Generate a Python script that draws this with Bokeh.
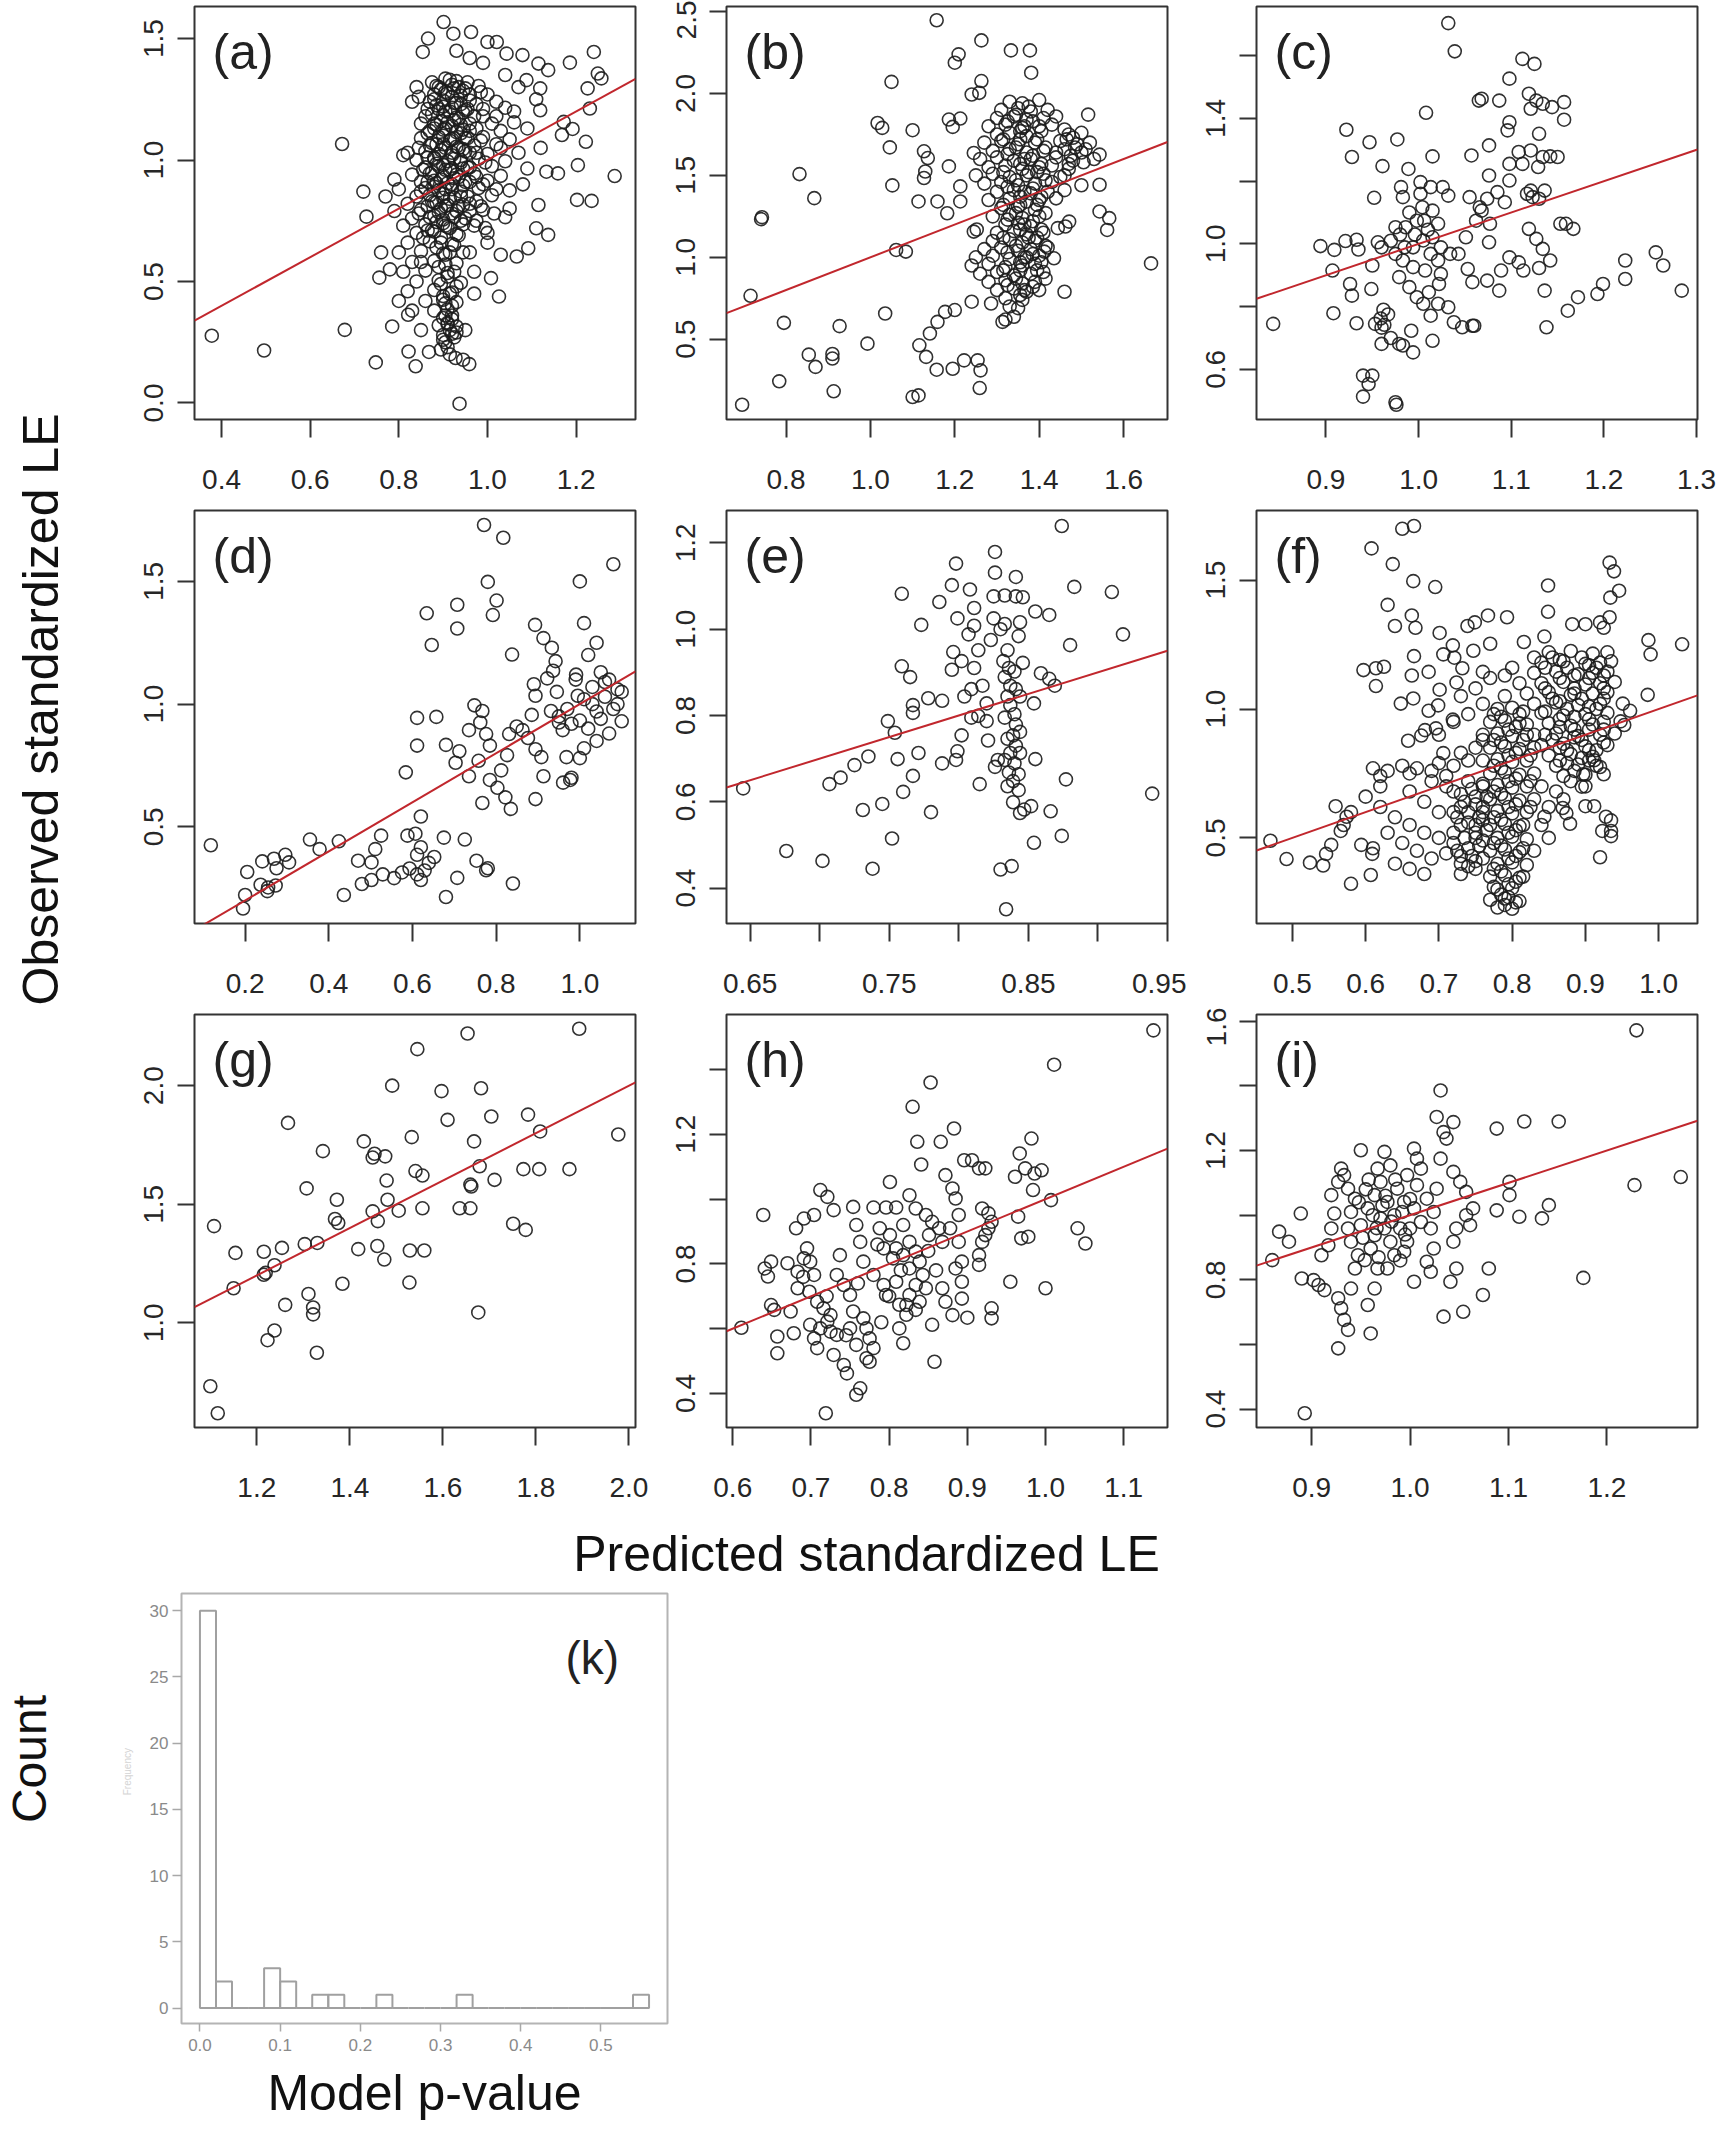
import math
from bokeh.plotting import figure
from bokeh.layouts import row, column
from bokeh.models import Range1d, FixedTicker, Label, PrintfTickFormatter
from bokeh.core.properties import value
from bokeh.embed import file_html
from bokeh.resources import INLINE

FONT = "Liberation Sans"

# ---------------- data ----------------
panel_keys = ["a", "b", "c", "d", "e", "f", "g", "h", "i"]

a_pts = [
    (0.378, 0.277), (0.496, 0.216), (0.672, 1.066), (0.678, 0.301), (0.720, 0.870), (0.727, 0.767),
    (0.756, 0.516), (0.748, 0.167), (0.785, 0.315), (0.821, 0.363), (0.822, 0.212), (0.838, 0.151),
    (0.868, 0.210), (0.937, -0.003), (0.928, 0.185), (0.945, 0.178), (0.959, 0.160), (0.901, 1.568),
    (0.854, 1.445), (0.866, 1.500), (0.923, 1.520), (0.963, 1.527), (1.000, 1.486), (1.021, 1.486),
    (1.043, 1.438), (1.079, 1.432), (1.115, 1.397), (1.137, 1.370), (1.186, 1.401), (1.240, 1.445),
    (1.249, 1.356), (1.226, 1.295), (1.257, 1.336), (1.231, 1.212), (1.222, 1.075), (1.204, 0.979),
    (1.202, 0.836), (1.235, 0.832), (1.168, 1.103), (1.159, 0.945), (1.133, 0.952), (1.137, 0.692),
    (1.110, 0.719), (1.115, 0.815), (1.092, 0.637), (1.066, 0.603), (1.030, 0.610), (1.026, 0.438),
    (1.008, 0.514), (1.119, 1.205), (1.088, 1.329), (1.119, 1.295), (1.287, 0.934), (1.172, 1.157),
    (1.192, 1.128), (0.96, 1.42), (0.99, 1.40), (0.93, 1.45), (1.04, 1.35), (1.07, 1.30), (1.11, 1.25),
    (1.06, 1.20), (1.09, 1.13), (0.84, 1.30), (0.83, 1.24), (0.81, 1.02), (0.79, 0.92), (0.77, 0.85),
    (0.76, 0.62), (0.78, 0.55), (0.80, 0.42), (0.83, 0.38), (0.85, 0.30), (1.05, 0.80), (1.08, 0.90),
    (1.12, 1.05), (1.03, 1.12), (1.00, 0.66), (0.97, 0.45), (0.95, 0.30),
    (0.905, 1.335), (0.93, 1.325), (0.89, 1.30), (0.92, 1.31), (0.95, 1.295), (0.98, 1.305),
    (0.88, 1.27), (0.91, 1.275), (0.94, 1.265), (1.00, 1.27), (0.87, 1.24), (0.90, 1.245), (0.93, 1.235),
    (0.96, 1.245), (1.02, 1.24), (0.89, 1.21), (0.92, 1.215), (0.95, 1.205), (0.99, 1.21), (1.04, 1.215),
    (0.86, 1.18), (0.90, 1.185), (0.93, 1.175), (0.97, 1.18), (0.88, 1.15), (0.91, 1.155), (0.94, 1.145),
    (1.01, 1.15), (1.06, 1.155), (0.87, 1.12), (0.90, 1.125), (0.93, 1.115), (0.96, 1.12), (0.85, 1.09),
    (0.89, 1.095), (0.92, 1.085), (0.95, 1.09), (0.99, 1.095), (1.05, 1.085), (0.87, 1.06), (0.90, 1.065),
    (0.93, 1.055), (0.97, 1.06), (1.02, 1.065), (0.82, 1.03), (0.86, 1.035), (0.89, 1.025), (0.92, 1.03),
    (0.95, 1.035), (1.00, 1.025), (1.07, 1.03), (0.84, 1.00), (0.88, 1.005), (0.91, 0.995), (0.94, 1.00),
    (0.98, 1.005), (1.04, 0.995), (0.86, 0.97), (0.89, 0.975), (0.92, 0.965), (0.96, 0.97), (1.01, 0.975),
    (1.09, 0.965), (0.83, 0.94), (0.87, 0.945), (0.90, 0.935), (0.93, 0.94), (0.97, 0.945), (1.03, 0.935),
    (0.85, 0.91), (0.88, 0.915), (0.91, 0.905), (0.95, 0.91), (1.00, 0.915), (0.80, 0.88), (0.86, 0.885),
    (0.89, 0.875), (0.92, 0.88), (0.98, 0.885), (1.05, 0.875), (0.84, 0.85), (0.87, 0.855), (0.90, 0.845),
    (0.94, 0.85), (1.01, 0.855), (0.82, 0.82), (0.88, 0.825), (0.91, 0.815), (0.96, 0.82), (0.79, 0.79),
    (0.85, 0.795), (0.89, 0.785), (0.93, 0.79), (0.99, 0.795), (0.83, 0.76), (0.87, 0.765), (0.90, 0.755),
    (0.95, 0.76), (1.04, 0.765), (0.81, 0.73), (0.86, 0.735), (0.91, 0.725), (0.97, 0.73), (0.84, 0.70),
    (0.88, 0.705), (0.93, 0.695), (1.00, 0.70), (0.82, 0.66), (0.87, 0.665), (0.92, 0.655), (0.80, 0.62),
    (0.85, 0.625), (0.90, 0.615), (0.96, 0.62), (0.83, 0.58), (0.88, 0.585), (0.93, 0.575), (0.81, 0.54),
    (0.86, 0.545), (0.91, 0.535), (0.97, 0.54), (0.84, 0.50), (0.89, 0.505), (0.94, 0.495), (0.82, 0.46),
    (0.88, 0.465), (0.92, 0.455), (0.86, 0.42), (0.90, 0.425), (0.93, 0.415), (0.88, 0.38), (0.91, 0.385),
    (0.90, 0.35), (0.92, 0.345), (0.89, 0.32), (0.91, 0.325), (0.93, 0.315), (0.90, 0.28), (0.92, 0.285),
    (0.905, 0.25),
    (0.875, 1.32), (0.895, 1.29), (0.915, 1.33), (0.935, 1.30), (0.955, 1.32), (0.88, 1.25), (0.90, 1.22),
    (0.92, 1.26), (0.94, 1.23), (0.96, 1.27), (0.875, 1.19), (0.895, 1.16), (0.915, 1.20), (0.935, 1.17),
    (0.955, 1.21), (0.88, 1.13), (0.90, 1.10), (0.92, 1.14), (0.94, 1.11), (0.96, 1.15), (0.875, 1.07),
    (0.895, 1.04), (0.915, 1.08), (0.935, 1.05), (0.955, 1.09), (0.88, 1.01), (0.90, 0.98), (0.92, 1.02),
    (0.94, 0.99), (0.96, 1.03), (0.875, 0.95), (0.895, 0.92), (0.915, 0.96), (0.935, 0.93), (0.955, 0.97),
    (0.88, 0.89), (0.90, 0.86), (0.92, 0.90), (0.94, 0.87), (0.96, 0.91), (0.875, 0.83), (0.895, 0.80),
    (0.915, 0.84), (0.935, 0.81), (0.955, 0.85), (0.88, 0.77), (0.90, 0.74), (0.92, 0.78), (0.94, 0.75),
    (0.96, 0.79), (0.875, 0.71), (0.895, 0.68), (0.915, 0.72), (0.935, 0.69), (0.885, 0.64), (0.905, 0.61),
    (0.925, 0.65), (0.945, 0.62), (0.89, 0.56), (0.91, 0.52), (0.93, 0.48), (0.90, 0.44), (0.92, 0.40),
    (0.905, 0.36), (0.915, 0.30), (0.925, 0.27), (0.895, 0.22), (0.915, 0.20),
    (0.845, 1.26), (0.85, 1.15), (0.845, 1.05), (0.855, 0.96), (0.85, 0.87), (0.845, 0.78), (0.855, 0.68),
    (0.85, 0.58), (0.985, 1.28), (0.99, 1.18), (0.985, 1.08), (0.995, 0.99), (0.99, 0.90), (0.985, 0.81),
    (0.995, 0.72), (1.02, 1.18), (1.03, 1.05), (1.02, 0.88), (1.015, 0.78),
    (0.885, 1.305), (0.905, 1.28), (0.925, 1.295), (0.945, 1.285), (0.885, 1.225), (0.905, 1.20),
    (0.925, 1.235), (0.945, 1.195), (0.885, 1.145), (0.905, 1.13), (0.925, 1.165), (0.945, 1.125),
    (0.885, 1.065), (0.905, 1.05), (0.925, 1.09), (0.945, 1.045), (0.885, 0.985), (0.905, 0.96),
    (0.925, 1.005), (0.945, 0.965), (0.885, 0.905), (0.905, 0.88), (0.925, 0.925), (0.945, 0.895),
    (0.885, 0.825), (0.905, 0.81), (0.925, 0.845), (0.945, 0.815), (0.885, 0.745), (0.905, 0.73),
    (0.925, 0.765), (0.945, 0.735), (0.895, 0.66), (0.915, 0.62), (0.905, 0.57), (0.925, 0.54),
    (0.895, 0.49), (0.915, 0.45), (0.905, 0.41), (0.92, 0.36), (0.91, 0.33), (0.93, 0.29), (0.90, 0.26),
    (0.91, 0.23), (0.865, 1.21), (0.865, 1.11), (0.865, 1.01), (0.865, 0.91), (0.865, 0.81), (0.865, 0.71),
    (0.975, 1.23), (0.975, 1.13), (0.975, 1.03), (0.975, 0.93), (0.975, 0.83), (0.975, 0.75),
]

b_pts = [
    (0.696, 0.100), (0.716, 0.765), (0.741, 1.233), (0.743, 1.245), (0.784, 0.243), (0.795, 0.600),
    (0.832, 1.508), (0.867, 1.361), (0.854, 0.406), (0.870, 0.331), (0.910, 0.382), (0.910, 0.410),
    (0.913, 0.182), (0.927, 0.580), (0.993, 0.473), (1.035, 0.657), (1.017, 1.820), (1.028, 1.790),
    (1.046, 1.671), (1.050, 2.071), (1.052, 1.439), (1.061, 1.045), (1.084, 1.035), (1.100, 1.776),
    (1.100, 0.147), (1.114, 0.157), (1.116, 0.463), (1.132, 0.392), (1.157, 0.314), (1.195, 0.320),
    (1.222, 0.371), (1.254, 0.371), (1.261, 0.310), (1.259, 0.202), (1.141, 0.535), (1.159, 0.606),
    (1.177, 0.667), (1.200, 0.678), (1.157, 2.447), (1.200, 2.188), (1.209, 2.239), (1.263, 2.324),
    (1.333, 2.263), (1.378, 2.263), (1.381, 2.127), (1.263, 2.076), (1.240, 1.994), (1.258, 2.004),
    (1.186, 1.841), (1.213, 1.847), (1.195, 1.796), (1.127, 1.647), (1.136, 1.606), (1.130, 1.524),
    (1.127, 1.484), (1.114, 1.341), (1.159, 1.341), (1.186, 1.555), (1.213, 1.433), (1.182, 1.269),
    (1.213, 1.341), (1.245, 1.637), (1.516, 1.871), (1.543, 1.627), (1.543, 1.443), (1.543, 1.280),
    (1.566, 1.239), (1.561, 1.167), (1.460, 0.790), (1.665, 0.963), (1.435, 0.994), (1.412, 1.035),
    (1.245, 1.157), (1.252, 1.170), (1.240, 0.729), (1.286, 0.718), (1.313, 0.606), (1.340, 0.637),
    (1.462, 1.188), (1.444, 1.178), (1.471, 1.218),
    (1.33, 1.95), (1.36, 1.94), (1.40, 1.96), (1.31, 1.90), (1.35, 1.91), (1.38, 1.89), (1.42, 1.90),
    (1.30, 1.85), (1.34, 1.86), (1.37, 1.84), (1.41, 1.85), (1.44, 1.86), (1.28, 1.80), (1.32, 1.81),
    (1.36, 1.79), (1.40, 1.80), (1.43, 1.81), (1.30, 1.75), (1.33, 1.76), (1.37, 1.74), (1.47, 1.75),
    (1.50, 1.76), (1.27, 1.70), (1.31, 1.71), (1.35, 1.69), (1.39, 1.70), (1.45, 1.71), (1.49, 1.69),
    (1.52, 1.70), (1.29, 1.65), (1.33, 1.66), (1.37, 1.64), (1.41, 1.65), (1.46, 1.66), (1.50, 1.64),
    (1.26, 1.60), (1.30, 1.61), (1.34, 1.59), (1.38, 1.60), (1.44, 1.61), (1.48, 1.59), (1.53, 1.60),
    (1.28, 1.55), (1.32, 1.56), (1.36, 1.54), (1.40, 1.55), (1.43, 1.56), (1.47, 1.54), (1.25, 1.50),
    (1.29, 1.51), (1.33, 1.49), (1.37, 1.50), (1.41, 1.51), (1.45, 1.49), (1.27, 1.45), (1.31, 1.46),
    (1.35, 1.44), (1.39, 1.45), (1.43, 1.46), (1.50, 1.44), (1.30, 1.40), (1.34, 1.41), (1.38, 1.39),
    (1.42, 1.40), (1.46, 1.41), (1.28, 1.35), (1.33, 1.36), (1.37, 1.34), (1.40, 1.35), (1.44, 1.36),
    (1.31, 1.30), (1.35, 1.31), (1.39, 1.29), (1.29, 1.25), (1.33, 1.26), (1.36, 1.24), (1.40, 1.25),
    (1.32, 1.20), (1.35, 1.21), (1.38, 1.19), (1.30, 1.15), (1.34, 1.16), (1.37, 1.14), (1.41, 1.15),
    (1.29, 1.10), (1.33, 1.11), (1.36, 1.09), (1.39, 1.10), (1.27, 1.05), (1.31, 1.06), (1.35, 1.04),
    (1.38, 1.05), (1.42, 1.06), (1.25, 1.00), (1.29, 1.01), (1.33, 0.99), (1.37, 1.00), (1.40, 1.01),
    (1.24, 0.95), (1.28, 0.96), (1.32, 0.94), (1.36, 0.95), (1.39, 0.96), (1.26, 0.90), (1.30, 0.91),
    (1.34, 0.89), (1.38, 0.90), (1.41, 0.91), (1.28, 0.85), (1.32, 0.86), (1.36, 0.84), (1.39, 0.85),
    (1.30, 0.80), (1.34, 0.81), (1.37, 0.79), (1.40, 0.80), (1.32, 0.75), (1.36, 0.74), (1.33, 0.70),
    (1.35, 0.69), (1.32, 0.62),
    (1.345, 1.87), (1.385, 1.83), (1.355, 1.77), (1.395, 1.72), (1.345, 1.67), (1.385, 1.62),
    (1.355, 1.57), (1.395, 1.52), (1.345, 1.47), (1.385, 1.42), (1.355, 1.37), (1.395, 1.32),
    (1.345, 1.27), (1.385, 1.22), (1.355, 1.17), (1.395, 1.12), (1.345, 1.07), (1.385, 1.02),
    (1.355, 0.97), (1.395, 0.92), (1.345, 0.87), (1.385, 0.82), (1.355, 0.77), (1.315, 1.72),
    (1.315, 1.52), (1.315, 1.32), (1.315, 1.12), (1.315, 0.92), (1.415, 1.67), (1.415, 1.47),
    (1.415, 1.27), (1.415, 1.07), (1.415, 0.87), (1.475, 1.62), (1.485, 1.67), (1.465, 1.72),
    (1.505, 1.58), (1.46, 1.50),
    (1.325, 1.83), (1.365, 1.80), (1.405, 1.77), (1.325, 1.63), (1.365, 1.60), (1.405, 1.57),
    (1.325, 1.43), (1.365, 1.40), (1.405, 1.37), (1.325, 1.23), (1.365, 1.20), (1.405, 1.17),
    (1.325, 1.03), (1.365, 1.00), (1.405, 0.97), (1.325, 0.83), (1.365, 0.80), (1.375, 1.92),
    (1.355, 1.72), (1.375, 1.52), (1.355, 1.32), (1.375, 1.12), (1.355, 0.92), (1.46, 1.78),
    (1.48, 1.73), (1.44, 1.64), (1.47, 1.57), (1.51, 1.66),
]

c_pts = [
    (0.843, 0.745), (0.894, 0.993), (0.909, 0.981), (0.921, 1.009), (0.933, 1.013), (0.935, 0.982),
    (0.907, 0.915), (0.926, 0.872), (0.928, 0.835), (0.908, 0.779), (0.933, 0.747), (0.949, 0.856),
    (0.950, 0.931), (0.956, 1.005), (0.960, 0.989), (0.962, 0.790), (0.967, 0.775), (0.959, 0.762),
    (0.953, 0.745), (0.960, 0.733), (0.963, 0.742), (0.940, 0.580), (0.950, 0.580), (0.946, 0.553),
    (0.940, 0.513), (0.975, 0.495), (0.976, 0.487), (0.922, 1.364), (0.928, 1.277), (0.947, 1.324),
    (0.961, 1.248), (0.977, 1.333), (0.952, 1.147), (0.989, 1.239), (1.008, 1.418), (1.015, 1.279),
    (1.032, 1.704), (1.039, 1.614), (0.981, 1.181), (0.983, 1.149), (1.002, 1.197), (1.013, 1.181),
    (1.026, 1.181), (1.032, 1.154), (1.002, 1.160), (1.004, 1.117), (0.998, 1.074), (1.015, 1.106),
    (1.021, 1.064), (1.006, 1.074), (0.975, 1.053), (0.986, 1.053), (0.975, 0.968), (0.985, 0.989),
    (0.994, 0.989), (1.005, 1.011), (1.015, 1.021), (1.024, 0.989), (1.013, 0.968), (0.983, 0.947),
    (0.994, 0.926), (1.007, 0.915), (1.021, 0.947), (1.034, 0.968), (1.024, 0.904), (0.979, 0.894),
    (0.990, 0.862), (0.998, 0.830), (1.011, 0.846), (1.022, 0.872), (1.013, 0.771), (1.015, 0.691),
    (0.994, 0.654), (0.983, 0.676), (0.992, 0.723), (1.021, 0.809), (1.032, 0.798), (1.038, 0.750),
    (1.005, 0.809), (1.043, 0.968), (1.053, 0.920), (1.051, 1.021), (1.058, 0.878), (1.058, 0.739),
    (1.055, 1.149), (1.066, 1.117), (1.062, 1.074), (1.057, 1.282), (1.068, 1.463), (1.065, 1.457),
    (1.087, 1.457), (1.076, 1.314), (1.085, 1.165), (1.093, 1.133), (1.098, 1.202), (1.096, 1.362),
    (1.098, 1.388), (1.076, 1.218), (1.074, 1.144), (1.068, 1.106), (1.077, 1.064), (1.076, 1.005),
    (1.074, 0.883), (1.089, 0.915), (1.087, 0.851), (1.098, 0.957), (1.108, 0.941), (1.113, 0.915),
    (1.112, 1.590), (1.125, 1.574), (1.098, 1.527), (1.119, 1.479), (1.127, 1.457), (1.134, 1.447),
    (1.144, 1.436), (1.157, 1.452), (1.157, 1.396), (1.121, 1.431), (1.130, 1.351), (1.108, 1.293),
    (1.121, 1.298), (1.134, 1.277), (1.142, 1.279), (1.150, 1.277), (1.098, 1.255), (1.112, 1.255),
    (1.129, 1.245), (1.117, 1.160), (1.123, 1.149), (1.136, 1.170), (1.130, 1.144), (1.121, 1.170),
    (1.153, 1.064), (1.159, 1.064), (1.167, 1.048), (1.119, 1.048), (1.127, 1.016), (1.134, 0.984),
    (1.142, 0.947), (1.130, 0.923), (1.136, 0.851), (1.138, 0.734), (1.161, 0.787), (1.172, 0.830),
    (1.193, 0.840), (1.199, 0.872), (1.223, 0.888), (1.223, 0.947), (1.256, 0.973), (1.264, 0.931),
    (1.284, 0.851), (1.047, 0.734), (1.060, 0.739), (0.960, 0.681), (0.979, 0.681), (0.970, 0.700),
    (0.990, 1.100), (0.996, 1.030), (1.010, 1.045), (0.970, 1.010), (0.980, 1.030),
]

d_pts = [
    (0.118, 0.425), (0.195, 0.167), (0.200, 0.222), (0.205, 0.316), (0.241, 0.359), (0.237, 0.264),
    (0.255, 0.253), (0.273, 0.261), (0.269, 0.370), (0.296, 0.386), (0.305, 0.355), (0.275, 0.331),
    (0.253, 0.238), (0.355, 0.448), (0.378, 0.409), (0.424, 0.441), (0.436, 0.222), (0.470, 0.362),
    (0.502, 0.355), (0.511, 0.409), (0.525, 0.464), (0.479, 0.267), (0.502, 0.283), (0.529, 0.306),
    (0.556, 0.291), (0.575, 0.314), (0.593, 0.330), (0.611, 0.306), (0.620, 0.283), (0.629, 0.322),
    (0.639, 0.353), (0.652, 0.377), (0.611, 0.386), (0.620, 0.417), (0.607, 0.472), (0.620, 0.542),
    (0.588, 0.464), (0.680, 0.214), (0.707, 0.292), (0.675, 0.456), (0.725, 0.448), (0.753, 0.362),
    (0.776, 0.323), (0.780, 0.331), (0.840, 0.269), (0.584, 0.722), (0.611, 0.831), (0.611, 0.944),
    (0.657, 0.948), (0.634, 1.370), (0.646, 1.241), (0.707, 1.405), (0.707, 1.308), (0.771, 1.730),
    (0.817, 1.678), (0.780, 1.498), (0.801, 1.422), (0.792, 1.363), (0.838, 1.202), (0.680, 0.834),
    (0.703, 0.761), (0.712, 0.808), (0.735, 0.894), (0.735, 0.706), (0.748, 0.995), (0.767, 0.972),
    (0.762, 0.925), (0.776, 0.878), (0.785, 0.831), (0.758, 0.769), (0.767, 0.597), (0.785, 0.691),
    (0.803, 0.659), (0.812, 0.730), (0.822, 0.620), (0.835, 0.573), (0.826, 0.792), (0.831, 0.878),
    (0.849, 0.909), (0.863, 0.894), (0.876, 0.862), (0.885, 0.956), (0.890, 1.081), (0.894, 1.034),
    (0.894, 0.816), (0.894, 0.613), (0.913, 0.706), (0.908, 0.784), (0.893, 1.323), (0.913, 1.269),
    (0.933, 1.230), (0.942, 1.175), (0.936, 1.136), (0.922, 1.105), (0.945, 1.050), (0.931, 0.972),
    (0.950, 0.925), (0.959, 0.894), (0.968, 0.784), (0.977, 0.691), (0.991, 1.120), (0.995, 1.034),
    (1.000, 0.933), (1.00, 1.50), (1.08, 1.57), (1.01, 1.33), (1.04, 1.25), (1.02, 1.20), (1.05, 1.13),
    (1.07, 1.10), (1.09, 1.06), (1.06, 1.03), (1.03, 1.00), (1.08, 0.98), (1.10, 0.93), (1.05, 0.94),
    (1.02, 0.90), (1.07, 0.88), (1.04, 0.85), (1.01, 0.82), (0.98, 0.70), (0.96, 0.68), (1.00, 0.78),
    (1.06, 1.09), (1.03, 1.07), (0.99, 1.10), (1.01, 1.02), (0.97, 0.98), (0.95, 0.95), (0.98, 0.92),
    (1.04, 0.97), (1.09, 1.00), (1.10, 1.05),
]

e_pts = [
    (0.645, 0.631), (0.676, 0.486), (0.702, 0.463), (0.707, 0.641), (0.715, 0.656), (0.725, 0.685),
    (0.735, 0.705), (0.731, 0.581), (0.738, 0.445), (0.745, 0.595), (0.752, 0.515), (0.749, 0.787),
    (0.754, 0.760), (0.756, 0.699), (0.760, 0.623), (0.767, 0.660), (0.759, 1.082), (0.759, 0.914),
    (0.765, 0.889), (0.767, 0.824), (0.767, 0.806), (0.771, 0.713), (0.773, 1.010), (0.778, 0.840),
    (0.788, 0.834), (0.780, 0.576), (0.786, 1.063), (0.788, 0.689), (0.795, 1.102), (0.798, 1.152),
    (0.799, 1.025), (0.796, 0.947), (0.795, 0.906), (0.802, 0.926), (0.804, 0.844), (0.802, 0.754),
    (0.799, 0.717), (0.798, 0.697), (0.808, 1.092), (0.811, 1.049), (0.811, 1.008), (0.807, 0.988),
    (0.814, 0.951), (0.811, 0.910), (0.809, 0.861), (0.809, 0.795), (0.814, 0.799), (0.820, 0.787),
    (0.821, 0.742), (0.815, 0.641), (0.820, 0.828), (0.817, 0.869), (0.823, 0.975), (0.825, 1.025),
    (0.830, 1.000), (0.825, 1.076), (0.826, 1.131), (0.826, 1.179),
    (0.833, 1.078), (0.841, 1.121), (0.846, 1.074), (0.841, 1.076), (0.833, 1.012), (0.844, 1.016),
    (0.843, 0.984), (0.835, 0.951), (0.832, 0.926), (0.836, 0.910), (0.840, 0.902), (0.846, 0.922),
    (0.833, 0.889), (0.837, 0.869), (0.841, 0.861), (0.844, 0.844), (0.835, 0.844), (0.837, 0.824),
    (0.840, 0.803), (0.833, 0.795), (0.841, 0.779), (0.844, 0.762), (0.839, 0.754), (0.835, 0.746),
    (0.841, 0.730), (0.837, 0.713), (0.844, 0.713), (0.833, 0.697), (0.840, 0.689), (0.836, 0.668),
    (0.843, 0.664), (0.839, 0.648), (0.835, 0.636), (0.828, 0.697), (0.826, 0.681), (0.843, 0.627),
    (0.839, 0.599), (0.847, 0.582), (0.844, 0.574),
    (0.830, 0.443), (0.838, 0.451), (0.834, 0.351), (0.852, 0.590), (0.854, 0.505), (0.854, 0.828),
    (0.855, 0.699), (0.859, 0.898), (0.865, 0.885), (0.869, 0.869), (0.855, 1.041), (0.865, 1.033),
    (0.866, 0.578), (0.874, 1.239), (0.874, 0.521), (0.877, 0.652), (0.880, 0.963), (0.883, 1.098),
    (0.910, 1.086), (0.918, 0.988), (0.939, 0.619),
]

f_pts = [
    (0.470, 0.489), (0.492, 0.418), (0.524, 0.404), (0.542, 0.393), (0.546, 0.438), (0.553, 0.473),
    (0.559, 0.623), (0.574, 0.582), (0.566, 0.527), (0.580, 0.322), (0.607, 0.356), (0.594, 0.473),
    (0.609, 0.438), (0.597, 1.151), (0.614, 1.158), (0.625, 1.164), (0.614, 1.089), (0.608, 1.623),
    (0.637, 1.562), (0.650, 1.699), (0.666, 1.710), (0.665, 1.496), (0.695, 1.473), (0.630, 1.404),
    (0.640, 1.322), (0.663, 1.363), (0.668, 1.315), (0.701, 1.295), (0.666, 1.205), (0.663, 1.130),
    (0.648, 1.021), (0.665, 1.041), (0.686, 1.144), (0.701, 1.075), (0.686, 0.993), (0.699, 1.014),
    (0.658, 0.877), (0.676, 0.897), (0.681, 0.918), (0.696, 0.925), (0.706, 0.829), (0.719, 0.959),
    (0.706, 1.212), (0.719, 1.247), (0.721, 1.199), (0.732, 1.158), (0.724, 1.103), (0.739, 1.322),
    (0.749, 1.336), (0.767, 1.363), (0.793, 1.356), (0.770, 1.253), (0.747, 1.226), (0.760, 1.144),
    (0.790, 1.130), (0.816, 1.260), (0.849, 1.479), (0.849, 1.377), (0.844, 1.281), (0.882, 1.329),
    (0.900, 1.329), (0.920, 1.336), (0.925, 1.315), (0.933, 1.568), (0.939, 1.534), (0.946, 1.459),
    (0.934, 1.432), (0.933, 1.356), (0.986, 1.267), (0.989, 1.212), (1.032, 1.251), (0.985, 1.055),
    (0.951, 1.021), (0.961, 0.993), (0.948, 0.952), (0.953, 0.938), (0.920, 0.425), (0.923, 0.527),
    (0.935, 0.568), (0.935, 0.527), (0.935, 0.507), (0.928, 0.582), (0.912, 0.623), (0.900, 0.623),
    (0.874, 0.596), (0.879, 0.555), (0.869, 0.616), (0.844, 0.582), (0.895, 0.699), (0.897, 0.747),
    (0.912, 0.801), (0.925, 0.747),
    (0.85, 1.22), (0.88, 1.225), (0.91, 1.215), (0.93, 1.22), (0.84, 1.18), (0.87, 1.185), (0.90, 1.175),
    (0.92, 1.18), (0.935, 1.185), (0.83, 1.14), (0.86, 1.145), (0.89, 1.135), (0.91, 1.14), (0.93, 1.145),
    (0.84, 1.10), (0.87, 1.105), (0.90, 1.095), (0.92, 1.10), (0.94, 1.105), (0.82, 1.06), (0.85, 1.065),
    (0.88, 1.055), (0.91, 1.06), (0.93, 1.065), (0.83, 1.02), (0.86, 1.025), (0.89, 1.015), (0.92, 1.02),
    (0.81, 0.98), (0.84, 0.985), (0.87, 0.975), (0.90, 0.98), (0.93, 0.985), (0.82, 0.94), (0.85, 0.945),
    (0.88, 0.935), (0.91, 0.94), (0.83, 0.90), (0.86, 0.905), (0.89, 0.895), (0.92, 0.90), (0.94, 0.905),
    (0.84, 0.86), (0.87, 0.865), (0.90, 0.855), (0.93, 0.86), (0.85, 0.82), (0.88, 0.825), (0.91, 0.815),
    (0.86, 0.78), (0.89, 0.785), (0.92, 0.775), (0.87, 0.74), (0.90, 0.745),
    (0.855, 1.20), (0.875, 1.16), (0.895, 1.20), (0.915, 1.16), (0.865, 1.12), (0.885, 1.08), (0.905, 1.12),
    (0.925, 1.08), (0.855, 1.04), (0.875, 1.00), (0.895, 1.04), (0.915, 1.00), (0.865, 0.96), (0.885, 0.92),
    (0.905, 0.96), (0.925, 0.92), (0.855, 0.88), (0.875, 0.84), (0.895, 0.88), (0.915, 0.84), (0.865, 0.80),
    (0.885, 0.76), (0.905, 0.80),
    (0.845, 1.16), (0.865, 1.19), (0.885, 1.13), (0.905, 1.17), (0.925, 1.13), (0.845, 1.08), (0.865, 1.03),
    (0.885, 1.06), (0.905, 1.01), (0.925, 1.04), (0.845, 0.99), (0.865, 0.93), (0.885, 0.97), (0.905, 0.92),
    (0.925, 0.95), (0.845, 0.90), (0.865, 0.85), (0.885, 0.89), (0.905, 0.84), (0.925, 0.87), (0.875, 0.79),
    (0.895, 0.81), (0.915, 0.78),
    (0.78, 1.00), (0.80, 1.005), (0.77, 0.95), (0.79, 0.955), (0.81, 0.945), (0.76, 0.90), (0.78, 0.905),
    (0.80, 0.895), (0.82, 0.90), (0.77, 0.85), (0.79, 0.855), (0.81, 0.845), (0.83, 0.85), (0.76, 0.80),
    (0.78, 0.805), (0.80, 0.795), (0.82, 0.80), (0.77, 0.75), (0.79, 0.755), (0.81, 0.745), (0.83, 0.75),
    (0.76, 0.70), (0.78, 0.705), (0.80, 0.695), (0.82, 0.70), (0.77, 0.65), (0.79, 0.655), (0.81, 0.645),
    (0.83, 0.65), (0.76, 0.60), (0.78, 0.605), (0.80, 0.595), (0.82, 0.60), (0.77, 0.55), (0.79, 0.555),
    (0.81, 0.545), (0.78, 0.50), (0.80, 0.505), (0.82, 0.495), (0.77, 0.45), (0.79, 0.455), (0.81, 0.445),
    (0.78, 0.40), (0.80, 0.405), (0.82, 0.395), (0.77, 0.35), (0.79, 0.355), (0.81, 0.345), (0.78, 0.30),
    (0.80, 0.305), (0.77, 0.26), (0.79, 0.265), (0.81, 0.255), (0.78, 0.23), (0.80, 0.225),
    (0.785, 0.97), (0.795, 0.92), (0.785, 0.87), (0.795, 0.82), (0.785, 0.77), (0.795, 0.72), (0.785, 0.67),
    (0.795, 0.62), (0.785, 0.57), (0.795, 0.52), (0.785, 0.47), (0.795, 0.42), (0.785, 0.37), (0.795, 0.32),
    (0.785, 0.28), (0.805, 0.25), (0.815, 0.35), (0.815, 0.55), (0.825, 0.72), (0.815, 0.88),
    (0.775, 0.98), (0.805, 0.93), (0.775, 0.88), (0.805, 0.83), (0.775, 0.78), (0.805, 0.73), (0.775, 0.68),
    (0.805, 0.63), (0.775, 0.58), (0.805, 0.53), (0.775, 0.48), (0.805, 0.43), (0.775, 0.38), (0.805, 0.33),
    (0.775, 0.31), (0.795, 0.27), (0.79, 0.24), (0.815, 0.46), (0.825, 0.62), (0.825, 0.82), (0.815, 0.99),
    (0.62, 0.62), (0.64, 0.58), (0.66, 0.55), (0.68, 0.52), (0.70, 0.50), (0.65, 0.48), (0.67, 0.45),
    (0.69, 0.42), (0.63, 0.52), (0.61, 0.46), (0.64, 0.40), (0.66, 0.38), (0.68, 0.36), (0.71, 0.44),
    (0.73, 0.40), (0.74, 0.46), (0.72, 0.52), (0.74, 0.56), (0.73, 0.62), (0.75, 0.66), (0.72, 0.68),
    (0.74, 0.72), (0.70, 0.60), (0.68, 0.64), (0.71, 0.70), (0.75, 0.50), (0.76, 0.42), (0.73, 0.36),
    (0.75, 0.38), (0.74, 0.60), (0.66, 0.68), (0.69, 0.72), (0.62, 0.70), (0.60, 0.66), (0.58, 0.60),
    (0.57, 0.55), (0.72, 0.78), (0.76, 0.62), (0.75, 0.55), (0.61, 0.77), (0.63, 0.76), (0.65, 0.78),
    (0.67, 0.77), (0.69, 0.76), (0.71, 0.74), (0.62, 0.74), (0.66, 0.75), (0.70, 0.79), (0.73, 0.83),
    (0.75, 0.85), (0.76, 0.88), (0.74, 0.80), (0.70, 0.90), (0.72, 0.95), (0.74, 0.98), (0.76, 1.02),
    (0.73, 1.05), (0.75, 1.08), (0.77, 1.12), (0.79, 1.05), (0.81, 1.10), (0.80, 1.16), (0.83, 1.20),
    (0.84, 0.70), (0.86, 0.68), (0.85, 0.62), (0.88, 0.72), (0.90, 0.70), (0.87, 0.65), (0.84, 0.55),
    (0.85, 0.50), (0.83, 0.45),
    (0.725, 0.45), (0.735, 0.50), (0.745, 0.43), (0.755, 0.58), (0.735, 0.64), (0.745, 0.69),
    (0.725, 0.58), (0.755, 0.47), (0.765, 0.53), (0.765, 0.66),
    (0.73, 0.43), (0.75, 0.41), (0.72, 0.48), (0.76, 0.49), (0.73, 0.55), (0.75, 0.52), (0.72, 0.60),
    (0.76, 0.57), (0.73, 0.67), (0.75, 0.63), (0.76, 0.71), (0.74, 0.39),
]

g_pts = [
    (1.108, 1.408), (1.100, 0.733), (1.116, 0.619), (1.154, 1.295), (1.150, 1.146), (1.215, 1.300),
    (1.254, 1.316), (1.215, 1.203), (1.219, 1.211), (1.238, 1.243), (1.223, 0.927), (1.238, 0.968),
    (1.261, 1.076), (1.267, 1.843), (1.307, 1.567), (1.303, 1.332), (1.330, 1.337), (1.311, 1.122),
    (1.321, 1.065), (1.321, 1.036), (1.329, 0.874), (1.342, 1.724), (1.372, 1.519), (1.375, 1.421),
    (1.368, 1.438), (1.384, 1.165), (1.418, 1.311), (1.430, 1.765), (1.449, 1.697), (1.476, 1.702),
    (1.453, 1.713), (1.479, 1.600), (1.481, 1.519), (1.505, 1.473), (1.449, 1.470), (1.460, 1.429),
    (1.459, 1.324), (1.474, 1.267), (1.491, 2.000), (1.529, 1.305), (1.560, 1.305), (1.528, 1.170),
    (1.533, 1.783), (1.541, 1.640), (1.556, 1.621), (1.556, 1.483), (1.545, 2.154), (1.597, 1.977),
    (1.610, 1.856), (1.636, 1.483), (1.659, 1.483), (1.653, 2.220), (1.667, 1.765), (1.659, 1.583),
    (1.661, 1.575), (1.679, 1.660), (1.682, 1.989), (1.676, 1.044), (1.704, 1.870), (1.711, 1.603),
    (1.751, 1.418), (1.778, 1.392), (1.773, 1.648), (1.807, 1.648), (1.783, 1.878), (1.809, 1.807),
    (1.872, 1.648), (1.893, 2.240), (1.977, 1.794),
]

h_pts = [
    (0.611, 0.603), (0.639, 0.951), (0.641, 0.786), (0.645, 0.761), (0.649, 0.807), (0.649, 0.673),
    (0.653, 0.658), (0.657, 0.576), (0.657, 0.524), (0.670, 0.802), (0.683, 0.776), (0.683, 0.725),
    (0.691, 0.817), (0.674, 0.653), (0.678, 0.586), (0.681, 0.910), (0.691, 0.940), (0.704, 0.951),
    (0.712, 1.028), (0.721, 1.007), (0.729, 0.966), (0.695, 0.848), (0.699, 0.807), (0.704, 0.766),
    (0.698, 0.714), (0.708, 0.683), (0.716, 0.663), (0.725, 0.642), (0.699, 0.612), (0.704, 0.570),
    (0.708, 0.540), (0.712, 0.601), (0.721, 0.622), (0.725, 0.591), (0.733, 0.581), (0.719, 0.339),
    (0.729, 0.519), (0.742, 0.488), (0.746, 0.462), (0.737, 0.827), (0.733, 0.766), (0.742, 0.735),
    (0.750, 0.704), (0.754, 0.653), (0.750, 0.601), (0.758, 0.550), (0.767, 0.632), (0.771, 0.601),
    (0.775, 0.570), (0.780, 0.540), (0.771, 0.509), (0.775, 0.498), (0.763, 0.416), (0.758, 0.396),
    (0.754, 0.976), (0.758, 0.920), (0.763, 0.868), (0.767, 0.807), (0.780, 0.974), (0.796, 0.974),
    (0.801, 1.053), (0.809, 0.974), (0.788, 0.910), (0.801, 0.889), (0.818, 0.920), (0.793, 0.848),
    (0.805, 0.817), (0.780, 0.766), (0.793, 0.735), (0.809, 0.745), (0.796, 0.704), (0.813, 0.674),
    (0.822, 0.643), (0.809, 0.848), (0.818, 0.827), (0.826, 0.868), (0.834, 0.838), (0.839, 0.807),
    (0.826, 0.786), (0.843, 0.766), (0.834, 0.735), (0.847, 0.725), (0.826, 0.704), (0.839, 0.683),
    (0.822, 0.673), (0.834, 0.658), (0.818, 0.555), (0.813, 0.601), (0.830, 1.285), (0.836, 1.177),
    (0.841, 1.107), (0.826, 1.012), (0.834, 0.971), (0.847, 0.951), (0.855, 0.930), (0.851, 0.889),
    (0.864, 0.910), (0.868, 0.868), (0.853, 1.360), (0.858, 0.498), (0.855, 0.612), (0.866, 1.177),
    (0.872, 1.074), (0.881, 1.033), (0.885, 1.002), (0.889, 0.951), (0.878, 0.910), (0.889, 0.868),
    (0.893, 0.807), (0.885, 0.786), (0.893, 0.745), (0.868, 0.725), (0.872, 0.683), (0.881, 0.642),
    (0.893, 0.693), (0.883, 1.218), (0.896, 1.120), (0.906, 1.120), (0.915, 1.095), (0.923, 1.095),
    (0.900, 0.634), (0.915, 0.827), (0.919, 0.868), (0.923, 0.889), (0.927, 0.910), (0.931, 0.930),
    (0.915, 0.797), (0.927, 0.956), (0.919, 0.971), (0.931, 0.663), (0.931, 0.632), (0.955, 0.745),
    (0.961, 1.069), (0.965, 0.946), (0.969, 0.879), (0.967, 1.141), (0.974, 1.095), (0.982, 1.187),
    (0.986, 1.079), (0.995, 1.089), (0.978, 0.884), (0.984, 1.028), (1.000, 0.725), (1.007, 0.997),
    (1.011, 1.415), (1.041, 0.910), (1.051, 0.863), (1.138, 1.521),
    (0.785, 0.860), (0.815, 0.780), (0.800, 0.700), (0.760, 0.740), (0.720, 0.700), (0.690, 0.760),
    (0.745, 0.580), (0.790, 0.620), (0.850, 0.840), (0.860, 0.780),
]

i_pts = [
    (0.860, 0.861), (0.867, 0.949), (0.877, 0.918), (0.889, 1.005), (0.893, 0.387), (0.890, 0.804),
    (0.902, 0.799), (0.907, 0.784), (0.913, 0.768), (0.910, 0.876), (0.917, 0.907), (0.920, 0.959),
    (0.923, 1.005), (0.920, 1.062), (0.927, 1.103), (0.930, 1.144), (0.933, 1.124), (0.927, 0.743),
    (0.930, 0.712), (0.933, 0.676), (0.937, 0.645), (0.927, 0.588), (0.940, 0.773), (0.944, 0.835),
    (0.947, 0.876), (0.940, 0.918), (0.937, 0.959), (0.940, 1.010), (0.944, 1.051), (0.937, 1.082),
    (0.950, 1.201), (0.960, 0.634), (0.957, 0.722), (0.964, 0.773), (0.967, 0.835), (0.954, 0.861),
    (0.960, 0.897), (0.964, 0.938), (0.950, 0.969), (0.957, 1.021), (0.964, 1.062), (0.970, 1.103),
    (0.967, 1.144), (0.974, 1.196), (0.980, 1.154), (0.977, 1.041), (0.984, 1.000), (0.974, 0.959),
    (0.980, 0.918), (0.984, 0.876), (0.977, 0.835), (0.987, 1.082), (0.994, 1.041), (0.990, 0.959),
    (0.997, 0.918), (0.994, 0.887), (1.000, 0.959), (0.997, 1.124), (1.004, 1.206), (1.007, 1.175),
    (1.011, 1.144), (1.007, 1.093), (1.004, 1.021), (1.011, 0.979), (1.004, 0.794), (1.017, 0.856),
    (1.021, 0.825), (1.024, 0.897), (1.021, 0.959), (1.024, 1.010), (1.017, 1.051), (1.027, 1.082),
    (1.031, 1.386), (1.027, 1.304), (1.034, 1.257), (1.037, 1.237), (1.044, 1.288), (1.031, 1.175),
    (1.044, 1.134), (1.051, 1.103), (1.057, 1.072), (1.034, 0.686), (1.054, 0.701), (1.041, 0.794),
    (1.047, 0.835), (1.044, 0.918), (1.047, 0.959), (1.061, 0.969), (1.064, 1.021), (1.057, 1.000),
    (1.074, 0.753), (1.080, 0.835), (1.088, 1.268), (1.101, 1.103), (1.101, 1.062), (1.088, 1.015),
    (1.111, 0.995), (1.116, 1.290), (1.134, 0.990), (1.141, 1.031), (1.151, 1.290), (1.176, 0.806),
    (1.228, 1.093), (1.275, 1.118), (1.230, 1.572),
    (0.955, 1.080), (0.962, 1.000), (0.970, 0.990), (0.975, 1.060), (0.985, 1.110), (0.992, 1.010),
    (1.000, 1.050), (0.952, 0.930), (0.968, 0.870), (0.990, 0.860), (0.958, 1.110), (0.972, 1.030),
    (0.981, 0.980), (0.966, 0.960), (0.995, 0.940), (0.948, 1.040),
]

# fitted lines drawn in each panel (intercept, slope)
fit_intercept = [0.0, 0.0, 0.0, 0.0, 0.0, 0.0, 0.0, 0.0, 0.0]
fit_slope = [1.0, 1.0, 1.0, 1.0, 1.0, 1.0, 1.0, 1.0, 1.0]

# histogram of model p-values
bin_edges = [0.00, 0.02, 0.04, 0.06, 0.08, 0.10, 0.12, 0.14, 0.16, 0.18, 0.20, 0.22, 0.24, 0.26,
             0.28, 0.30, 0.32, 0.34, 0.36, 0.38, 0.40, 0.42, 0.44, 0.46, 0.48, 0.50, 0.52, 0.54, 0.56]
bin_counts = [30, 2, 0, 0, 3, 2, 0, 1, 1, 0, 0, 1, 0, 0, 0, 0, 1, 0, 0, 0, 0, 0, 0, 0, 0, 0, 0, 1]
hist_x_ticks = [0.0, 0.1, 0.2, 0.3, 0.4, 0.5]
hist_y_ticks = [0, 5, 10, 15, 20, 25, 30]

# axis limits and ticks
x_limits = {"a": (0.339, 1.334), "b": (0.659, 1.704), "c": (0.825, 1.301), "d": (0.079, 1.133),
            "e": (0.633, 0.950), "f": (0.451, 1.053), "g": (1.066, 2.014), "h": (0.592, 1.156),
            "i": (0.844, 1.292)}
y_limits = {"a": (-0.068, 1.632), "b": (0.010, 2.531), "c": (0.440, 1.757), "d": (0.106, 1.789),
            "e": (0.318, 1.275), "f": (0.168, 1.770), "g": (0.559, 2.300), "h": (0.295, 1.570),
            "i": (0.343, 1.621)}
x_ticks = {"a": [0.4, 0.6, 0.8, 1.0, 1.2], "b": [0.8, 1.0, 1.2, 1.4, 1.6], "c": [0.9, 1.0, 1.1, 1.2, 1.3],
           "d": [0.2, 0.4, 0.6, 0.8, 1.0], "e": [0.65, 0.70, 0.75, 0.80, 0.85, 0.90, 0.95],
           "f": [0.5, 0.6, 0.7, 0.8, 0.9, 1.0], "g": [1.2, 1.4, 1.6, 1.8, 2.0],
           "h": [0.6, 0.7, 0.8, 0.9, 1.0, 1.1], "i": [0.9, 1.0, 1.1, 1.2]}
x_labeled = dict(x_ticks)
x_labeled["e"] = [0.65, 0.75, 0.85, 0.95]
x_format = {k: "%.1f" for k in panel_keys}
x_format["e"] = "%.2f"
y_ticks = {"a": [0.0, 0.5, 1.0, 1.5], "b": [0.5, 1.0, 1.5, 2.0, 2.5], "c": [0.6, 0.8, 1.0, 1.2, 1.4, 1.6],
           "d": [0.5, 1.0, 1.5], "e": [0.4, 0.6, 0.8, 1.0, 1.2], "f": [0.5, 1.0, 1.5],
           "g": [1.0, 1.5, 2.0], "h": [0.4, 0.6, 0.8, 1.0, 1.2, 1.4],
           "i": [0.4, 0.6, 0.8, 1.0, 1.2, 1.4, 1.6]}
y_labeled = dict(y_ticks)
y_labeled["c"] = [0.6, 1.0, 1.4]
y_labeled["h"] = [0.4, 0.8, 1.2]
y_labeled["i"] = [0.4, 0.8, 1.2, 1.6]

panel_points = {"a": a_pts, "b": b_pts, "c": c_pts, "d": d_pts, "e": e_pts, "f": f_pts,
                "g": g_pts, "h": h_pts, "i": i_pts}

# ---------------- layout constants ----------------
FW, FH = 441, 413
LEFT_B = 70
RIGHT_B = [21, 19, 19]
TOP_B = [6, 7, 7]
BOTTOM_B = 84
TICK_COLOR = "#333333"
LABEL_COLOR = "#262626"


def style_axis(ax, ticks, labeled, fmt, size, color, tick_color, tick_out, standoff, orient=None, tw=2):
    ax.ticker = FixedTicker(ticks=ticks)
    ax.formatter = PrintfTickFormatter(format=fmt)
    ax.major_label_overrides = {t: "" for t in ticks if t not in labeled}
    ax.axis_line_color = None
    ax.major_tick_in = 0
    ax.major_tick_out = tick_out
    ax.major_tick_line_color = tick_color
    ax.major_tick_line_width = tw
    ax.minor_tick_line_color = None
    ax.major_label_text_font = FONT
    ax.major_label_text_font_size = size
    ax.major_label_text_color = color
    ax.major_label_standoff = standoff
    if orient is not None:
        ax.major_label_orientation = orient


def make_panel(idx, key):
    col = idx % 3
    r = idx // 3
    x0, x1 = x_limits[key]
    y0, y1 = y_limits[key]
    p = figure(frame_width=FW, frame_height=FH, x_range=Range1d(x0, x1), y_range=Range1d(y0, y1),
               min_border_left=LEFT_B, min_border_right=RIGHT_B[col], min_border_top=TOP_B[r],
               min_border_bottom=BOTTOM_B, toolbar_location=None, output_backend="svg")
    p.grid.visible = False
    p.background_fill_color = "white"
    p.border_fill_color = "white"
    p.outline_line_color = "#333333"
    p.outline_line_width = 2
    p.outline_line_alpha = 1.0
    style_axis(p.xaxis[0], x_ticks[key], x_labeled[key], x_format[key], "28px", LABEL_COLOR,
               TICK_COLOR, 18, 32)
    style_axis(p.yaxis[0], y_ticks[key], y_labeled[key], "%.1f", "28px", LABEL_COLOR,
               TICK_COLOR, 17, 14, orient="vertical")
    pts = panel_points[key]
    xs = [q[0] for q in pts]
    ys = [q[1] for q in pts]
    p.scatter(xs, ys, marker="circle", size=13, fill_color=None, line_color="#1c1c1c",
              line_width=1.6, line_alpha=0.9)
    lx = [x0, x1]
    ly = [fit_intercept[idx] + fit_slope[idx] * v for v in lx]
    p.line(lx, ly, line_color="#c1272d", line_width=2)
    p.add_layout(Label(x=x0 + 18.0 / FW * (x1 - x0), y=y1 - 17.0 / FH * (y1 - y0), text="(" + key + ")",
                       text_font=FONT, text_font_size="50px", text_baseline="top", text_align="left",
                       text_color="#222222"))
    return p


def text_fig(w, h):
    f = figure(width=w, height=h, x_range=Range1d(0, w), y_range=Range1d(0, h), min_border=0,
               x_axis_type=None, y_axis_type=None, toolbar_location=None, output_backend="svg")
    f.outline_line_color = None
    f.background_fill_color = "white"
    f.border_fill_color = "white"
    return f


panels = [make_panel(i, k) for i, k in enumerate(panel_keys)]
grid_h = sum(TOP_B) + 3 * (FH + BOTTOM_B)
grid = column(row(*panels[0:3]), row(*panels[3:6]), row(*panels[6:9]))

ytitle = text_fig(124, grid_h)
ytitle.text(x=[40], y=[grid_h - 709], text=["Observed standardized LE"], angle=math.pi / 2,
            text_align="center", text_baseline="middle", text_font=value(FONT),
            text_font_size=value("50px"), text_color="#111111")

XT_H = 72
xtitle = text_fig(1716, XT_H)
xtitle.text(x=[866], y=[XT_H - (1553 - grid_h)], text=["Predicted standardized LE"], text_align="center",
            text_baseline="middle", text_font=value(FONT), text_font_size=value("50px"),
            text_color="#111111")

# histogram panel
HFW, HFH = 486, 430
HB_T = 1593 - (grid_h + XT_H)
HB_B = 103
hist_h = HB_T + HFH + HB_B
hx0, hx1, hy0, hy1 = -0.023, 0.583, -1.17, 31.3
hp = figure(frame_width=HFW, frame_height=HFH, x_range=Range1d(hx0, hx1), y_range=Range1d(hy0, hy1),
            min_border_left=41, min_border_right=10, min_border_top=HB_T, min_border_bottom=HB_B,
            toolbar_location=None, output_backend="svg")
hp.grid.visible = False
hp.outline_line_color = "#b4b4b4"
hp.outline_line_width = 2
style_axis(hp.xaxis[0], hist_x_ticks, hist_x_ticks, "%.1f", "17px", "#8a8a8a", "#a8a8a8", 8, 7, tw=1.5)
style_axis(hp.yaxis[0], hist_y_ticks, hist_y_ticks, "%d", "17px", "#8a8a8a", "#a8a8a8", 9, 4, tw=1.5)
hp.xaxis[0].axis_label = "Model p-value"
hp.xaxis[0].axis_label_text_font = FONT
hp.xaxis[0].axis_label_text_font_size = "50px"
hp.xaxis[0].axis_label_text_font_style = "normal"
hp.xaxis[0].axis_label_text_color = "#111111"
hp.xaxis[0].axis_label_standoff = 11
hp.quad(left=bin_edges[:-1], right=bin_edges[1:], bottom=0, top=bin_counts, fill_color=None,
        line_color="#a0a0a0", line_width=2)
hp.add_layout(Label(x=hx0 + (384.0 / HFW) * (hx1 - hx0), y=hy1 - (38.0 / HFH) * (hy1 - hy0), text="(k)",
                    text_font=FONT, text_font_size="46px", text_baseline="top", text_color="#222222"))

block_top = grid_h + XT_H
count_fig = text_fig(140, hist_h)
count_fig.text(x=[29], y=[hist_h - (1792 - block_top)], text=["Count"], angle=math.pi / 2,
               text_align="center", text_baseline="middle", text_font=value(FONT),
               text_font_size=value("48px"), text_color="#111111")
count_fig.text(x=[127], y=[hist_h - (1808 - block_top)], text=["Frequency"], angle=math.pi / 2,
               text_align="center", text_baseline="middle", text_font=value(FONT),
               text_font_size=value("10px"), text_color="#d4d4d4")

layout = column(row(ytitle, grid), xtitle, row(count_fig, hp))

with open("out.html", "w") as fh:
    fh.write(file_html(layout, INLINE))
